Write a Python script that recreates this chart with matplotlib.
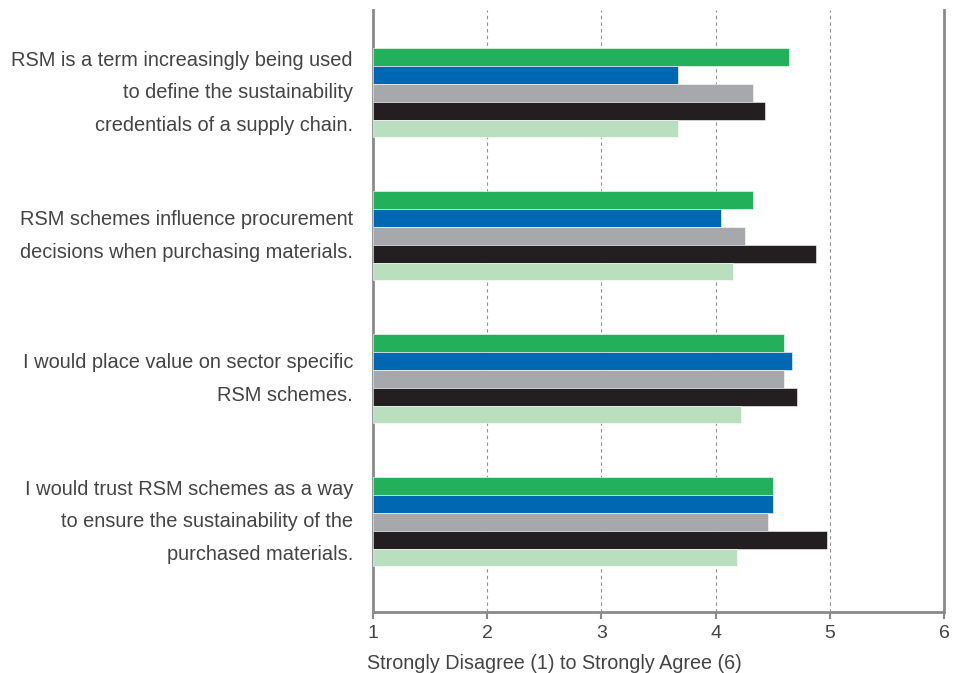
import numpy as np
import matplotlib
matplotlib.use('Agg')
import matplotlib.pyplot as plt

# survey statements (one group of bars each)
statements = [
    'RSM is a term increasingly being used\nto define the sustainability\ncredentials of a supply chain.',
    'RSM schemes influence procurement\ndecisions when purchasing materials.',
    'I would place value on sector specific\nRSM schemes.',
    'I would trust RSM schemes as a way\nto ensure the sustainability of the\npurchased materials.',
]

# mean scores per respondent group, top bar to bottom bar in each block
green_scores = [4.64, 4.33, 4.60, 4.50]
blue_scores = [3.67, 4.05, 4.67, 4.50]
grey_scores = [4.33, 4.26, 4.60, 4.46]
black_scores = [4.43, 4.88, 4.71, 4.98]
light_scores = [3.67, 4.15, 4.22, 4.19]

series = [green_scores, blue_scores, grey_scores, black_scores, light_scores]
colours = ['#22b15a', '#0068b3', '#a7a8ab', '#231f20', '#b9dfbf']

x_ticks = [1, 2, 3, 4, 5, 6]
x_title = 'Strongly Disagree (1) to Strongly Agree (6)'

plt.rcParams['font.family'] = ['Liberation Sans', 'DejaVu Sans']
txt_col = '#444444'
axis_col = '#8a8a8d'

fig = plt.figure(figsize=(9.6, 6.73), dpi=100)
ax = fig.add_axes([0.3885, 0.0906, 0.5948, 0.8945])

bar_h = 0.1245
pos = np.arange(len(statements))
for i, (vals, col) in enumerate(zip(series, colours)):
    offs = (i - 2) * bar_h
    ax.barh(pos + offs, np.array(vals) - 1, left=1, height=bar_h,
            color=col, edgecolor='white', linewidth=0.4, zorder=3)

ax.set_xlim(1, 6)
ax.set_ylim(3.63, -0.58)

# dashed guides at the inner integers
for v in x_ticks[1:-1]:
    ax.axvline(v, color='#8f8f8f', linestyle=(0, (3, 3)), linewidth=0.8, zorder=1)

for side in ['left', 'right', 'bottom']:
    ax.spines[side].set_color(axis_col)
    ax.spines[side].set_linewidth(2.0)
ax.spines['top'].set_visible(False)

ax.set_xticks(x_ticks)
ax.set_xticklabels([str(t) for t in x_ticks])
ax.tick_params(axis='x', length=5, width=1.5, color=axis_col,
               labelsize=14, labelcolor=txt_col, pad=4)
ax.set_xlabel(x_title, fontsize=14.2, color=txt_col, labelpad=9, x=-0.01,
              ha='left')

ax.set_yticks([])
for p, s in zip(pos, statements):
    ax.text(-0.035, p, s, transform=ax.get_yaxis_transform(), ha='right',
            va='center', fontsize=14.4, color=txt_col, linespacing=1.88)

fig.savefig('out.png', dpi=100)
